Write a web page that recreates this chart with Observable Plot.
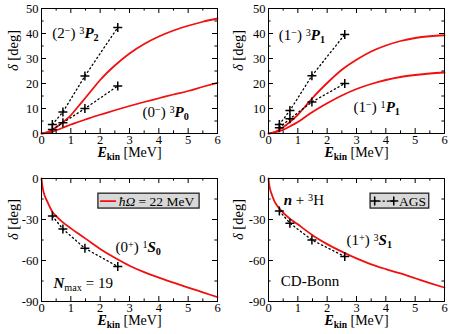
<!DOCTYPE html>
<html><head><meta charset="utf-8">
<script src="https://cdn.jsdelivr.net/npm/d3@7"></script>
<script src="https://cdn.jsdelivr.net/npm/@observablehq/plot@0.6"></script>
<style>
body{margin:0;background:#fff}
#chart{position:relative;width:451px;height:334px;overflow:hidden}
.p{position:absolute}
#chart svg, #chart svg text, #chart svg tspan{font-family:"Liberation Serif","Times New Roman",Times,"DejaVu Serif",serif !important}
</style>
</head><body><div id="chart"></div>
<script>
// ---- data ----
const agsE = [0.37, 0.73, 1.48, 2.6];
const ags3P2 = [3.6, 8.6, 23, 42.4];
const ags3P0 = [1.6, 4.3, 10, 19];
const ags3P1 = [3.6, 9.2, 23.1, 39.6];
const ags1P1 = [2.3, 5.9, 12.6, 20];
const ags1S0 = [-27.4, -37, -51.1, -64.4];
const ags3S1 = [-23.7, -32.7, -45, -57.1];

const pGrid = [0,0.25,0.5,0.75,1,1.25,1.5,1.75,2,2.5,3,3.5,4,4.5,5,5.5,6];
const calc3P2 = [0,0.8,2.5,4.7,7.3,10.8,14.3,17.9,21.4,27.2,32,35.8,38.8,41.2,43.1,44.7,46];
const calc3P0 = [0,0.4,1.3,2.4,3.6,4.6,5.6,6.6,7.5,9.3,11,12.6,14.1,15.6,17,18.7,20.3];
const calc3P1 = [0,0.8,2.5,4.8,7.5,10.8,14.2,17.3,20.2,25.5,29.5,32.8,35.2,37,38.2,38.9,39.3];
const calc1P1 = [0,0.5,1.5,3,4.6,6.6,8.6,10.4,12.1,15.2,17.8,19.8,21.4,22.6,23.4,24,24.4];

const sGrid = [0,0.02,0.05,0.1,0.2,0.375,0.5,0.75,1,1.25,1.5,2,2.5,3,3.5,4,4.5,5,5.5,6];
const calc1S0 = [0,-4,-8,-12,-17,-24.5,-27.5,-32.5,-36.5,-40.3,-44,-51.5,-58,-63.8,-68.5,-72.5,-76.2,-79.8,-83.3,-86.8];
const calc3S1 = [0,-4,-7.5,-11,-16.5,-22,-25,-29.8,-33.5,-37.6,-41.5,-48,-53.5,-58.5,-62.8,-66.3,-69.5,-73,-76.5,-79.8];

const xMajor = [0,1,2,3,4,5,6];
const xMinor = [0.5,1.5,2.5,3.5,4.5,5.5];
const yTopMajor = [0,10,20,30,40,50];
const yTopMinor = [5,15,25,35,45];
const yBotMajor = [0,-30,-60,-90];
const yBotMinor = [-15,-45,-75];

// ---- helpers ----
const pts = (xs, ys) => xs.map((x, i) => ({x, y: ys[i]}));
const RED = "#f01010";
const FONT = "'Liberation Serif', 'Times New Roman', serif";
const PLUS_R = 3;

function calcLine(xs, ys) {
  return Plot.line(pts(xs, ys), {x: "x", y: "y", stroke: RED, strokeWidth: 1.8, curve: "monotone-x"});
}
function agsMarks(ys) {
  const d = pts(agsE, ys);
  return [
    Plot.line(d, {x: "x", y: "y", stroke: "#000", strokeWidth: 1.3, strokeDasharray: "1.3,2.9"}),
    Plot.dot(d, {x: "x", y: "y", symbol: "plus", r: PLUS_R, stroke: "#000", strokeWidth: 1.5})
  ];
}
function tickMarks(xs, ys, len, iw, ih) {
  return [
    Plot.ruleX(xs, {insetTop: ih - len, stroke: "#000"}),
    Plot.ruleX(xs, {insetBottom: ih - len, stroke: "#000"}),
    Plot.ruleY(ys, {insetRight: iw - len, stroke: "#000"}),
    Plot.ruleY(ys, {insetLeft: iw - len, stroke: "#000"})
  ];
}

function panel(cfg) {
  const {w, h, m, yDomain, yMajor, yMinor, extra, xLabelDy, yLabelDx} = cfg;
  const iw = w - m.left - m.right, ih = h - m.top - m.bottom;
  return Plot.plot({
    width: w, height: h,
    marginTop: m.top, marginRight: m.right, marginBottom: m.bottom, marginLeft: m.left,
    style: {fontFamily: FONT, fontSize: "12.5px", background: "transparent", color: "#000"},
    x: {domain: [0, 6], ticks: xMajor, tickSize: 0, tickPadding: 2, label: null, tickFormat: d => String(d)},
    y: {domain: yDomain, ticks: yMajor, tickSize: 0, tickPadding: 3, label: null, tickFormat: d => String(d)},
    marks: [
      ...extra,
      Plot.frame({stroke: "#000", strokeWidth: 1}),
      ...tickMarks(xMajor, yMajor, 5, iw, ih),
      ...tickMarks(xMinor, yMinor, 2.6, iw, ih),
      Plot.text(["Ekin [MeV]"], {frameAnchor: "bottom", dy: xLabelDy, fontSize: 14}),
      Plot.text(["δ [deg]"], {frameAnchor: "left", dx: yLabelDx, rotate: -90, fontSize: 14.5})
    ]
  });
}

const sup = s => `<tspan font-size="0.68em" baseline-shift="4">${s}</tspan>`;
const sub = s => `<tspan font-size="0.68em" baseline-shift="-2.5">${s}</tspan>`;
const subb = s => `<tspan font-size="0.68em" font-weight="bold" baseline-shift="-2.5">${s}</tspan>`;
const bi = s => `<tspan font-weight="bold" font-style="italic">${s}</tspan>`;
const rich = {
  "Ekin [MeV]": `${bi("E")}${subb("kin")} [MeV]`,
  "δ [deg]": `<tspan font-style="italic">δ</tspan> [deg]`,
  "(2−) 3P2": `(2${sup("−")}) ${sup("3")}${bi("P")}${subb("2")}`,
  "(0−) 3P0": `(0${sup("−")}) ${sup("3")}${bi("P")}${subb("0")}`,
  "(1−) 3P1": `(1${sup("−")}) ${sup("3")}${bi("P")}${subb("1")}`,
  "(1−) 1P1": `(1${sup("−")}) ${sup("1")}${bi("P")}${subb("1")}`,
  "(0+) 1S0": `(0${sup("+")}) ${sup("1")}${bi("S")}${subb("0")}`,
  "(1+) 3S1": `(1${sup("+")}) ${sup("3")}${bi("S")}${subb("1")}`,
  "Nmax = 19": `${bi("N")}${sub("max")} = 19`,
  "n + 3H": `${bi("n")} + ${sup("3")}H`,
  "ħΩ = 22 MeV": `<tspan font-style="italic">ħΩ</tspan> = 22 MeV`
};
function applyRich(svg) {
  svg.querySelectorAll("text").forEach(t => {
    t.setAttribute("font-family", "Liberation Serif");
    const k = t.textContent;
    if (rich[k] !== undefined) t.innerHTML = rich[k];
  });
  return svg;
}

const ann = (s, x, y, size = 15) =>
  Plot.text([s], {x: () => x, y: () => y, textAnchor: "start", fontSize: size});

const mTop = {top: 8, right: 8, bottom: 34, left: 41};
const mTopR = {top: 8, right: 7, bottom: 34, left: 43};
const mBot = {top: 11, right: 8, bottom: 33, left: 41};
const mBotR = {top: 11, right: 7, bottom: 33, left: 43};

const panels = [
  {pos: [0, 0], w: 225, h: 167, m: mTop, yDomain: [0, 50], yMajor: yTopMajor, yMinor: yTopMinor, xLabelDy: 23, yLabelDx: -28,
   extra: [
     calcLine(pGrid, calc3P2), calcLine(pGrid, calc3P0),
     ...agsMarks(ags3P2), ...agsMarks(ags3P0),
     ann("(2−) 3P2", 0.37, 40), ann("(0−) 3P0", 3.44, 8.4)
   ]},
  {pos: [225, 0], w: 226, h: 167, m: mTopR, yDomain: [0, 50], yMajor: yTopMajor, yMinor: yTopMinor, xLabelDy: 23, yLabelDx: -30,
   extra: [
     calcLine(pGrid, calc3P1), calcLine(pGrid, calc1P1),
     ...agsMarks(ags3P1), ...agsMarks(ags1P1),
     ann("(1−) 3P1", 0.35, 39.2), ann("(1−) 1P1", 2.9, 10.4)
   ]},
  {pos: [0, 167], w: 225, h: 167, m: mBot, yDomain: [-90, 0], yMajor: yBotMajor, yMinor: yBotMinor, xLabelDy: 23, yLabelDx: -28,
   extra: [
     Plot.rect([0], {x1: () => 1.94, x2: () => 5.39, y1: () => -22, y2: () => -11.1, fill: "#d8d8d8", stroke: "#222", strokeWidth: 1.3}),
     Plot.line([[2.02, -16.5], [2.52, -16.5]], {stroke: RED, strokeWidth: 1.8}),
     ann("ħΩ = 22 MeV", 2.63, -16.6, 13.5),
     calcLine(sGrid, calc1S0),
     ...agsMarks(ags1S0),
     ann("(0+) 1S0", 2.52, -50.3), ann("Nmax = 19", 0.41, -76.4)
   ]},
  {pos: [225, 167], w: 226, h: 167, m: mBotR, yDomain: [-90, 0], yMajor: yBotMajor, yMinor: yBotMinor, xLabelDy: 23, yLabelDx: -30,
   extra: [
     Plot.rect([0], {x1: () => 3.48, x2: () => 5.48, y1: () => -22, y2: () => -11.1, fill: "#d8d8d8", stroke: "#222", strokeWidth: 1.3}),
     Plot.line([[3.62, -16.5], [4.27, -16.5]], {stroke: "#000", strokeWidth: 1.3, strokeDasharray: "1.3,2.9"}),
     Plot.dot([[3.62, -16.5], [4.27, -16.5]], {symbol: "plus", r: PLUS_R, stroke: "#000", strokeWidth: 1.5}),
     ann("AGS", 4.45, -16.6, 13.5),
     calcLine(sGrid, calc3S1),
     ...agsMarks(ags3S1),
     ann("n + 3H", 0.52, -16.2), ann("(1+) 3S1", 2.66, -45.2), ann("CD-Bonn", 0.42, -75)
   ]}
];

const chart = document.getElementById("chart");
for (const p of panels) {
  const svg = applyRich(panel(p));
  const wrap = document.createElement("div");
  wrap.className = "p";
  wrap.style.left = p.pos[0] + "px";
  wrap.style.top = p.pos[1] + "px";
  wrap.appendChild(svg);
  chart.appendChild(wrap);
}
</script>
</body></html>
